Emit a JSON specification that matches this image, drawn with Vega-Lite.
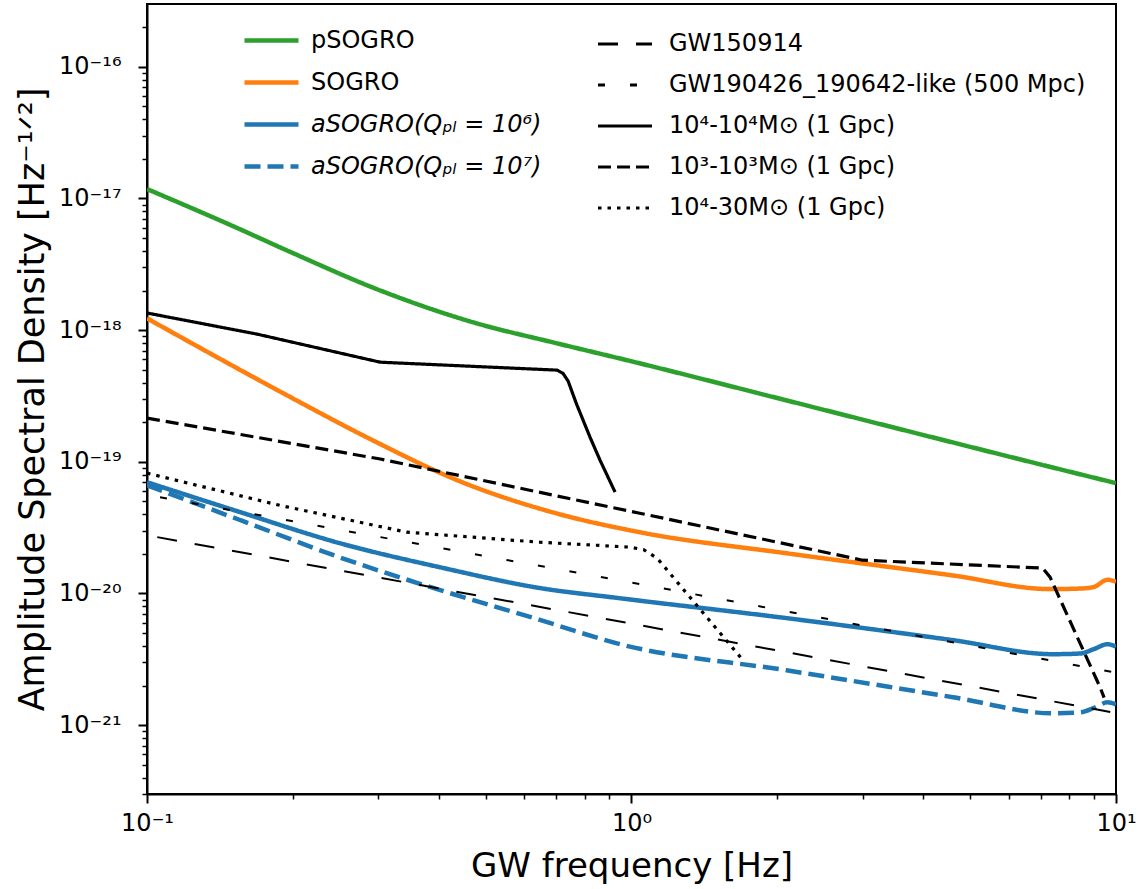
{
  "$schema": "https://vega.github.io/schema/vega-lite/v6.json",
  "width": 969,
  "height": 790,
  "autosize": {"type": "none"},
  "padding": {"left": 147, "top": 4, "right": 26, "bottom": 95},
  "background": "white",
  "config": {
    "font": "DejaVu Sans",
    "view": {"stroke": "black", "strokeWidth": 2},
    "axis": {
      "grid": false,
      "domainColor": "black",
      "domainWidth": 2,
      "tickColor": "black",
      "labelColor": "black",
      "titleColor": "black",
      "labelFontSize": 24,
      "titleFontSize": 34,
      "titleFontWeight": "normal",
      "labelFont": "DejaVu Sans",
      "titleFont": "DejaVu Sans",
      "labelOverlap": false,
      "labelFlush": false
    },
    "legend": {
      "labelFont": "DejaVu Sans",
      "labelFontSize": 24,
      "labelColor": "black",
      "labelLimit": 700,
      "padding": 0,
      "rowPadding": 0
    }
  },
  "datasets": {
    "det": [
      {"curve": "pSOGRO", "f": 0.1, "h": 1.18e-17},
      {"curve": "pSOGRO", "f": 0.15, "h": 6.2e-18},
      {"curve": "pSOGRO", "f": 0.2, "h": 3.85e-18},
      {"curve": "pSOGRO", "f": 0.3, "h": 2.03e-18},
      {"curve": "pSOGRO", "f": 0.47, "h": 1.15e-18},
      {"curve": "pSOGRO", "f": 0.7, "h": 7.96e-19},
      {"curve": "pSOGRO", "f": 1.0, "h": 5.8e-19},
      {"curve": "pSOGRO", "f": 2.0, "h": 3.05e-19},
      {"curve": "pSOGRO", "f": 3.0, "h": 2.09e-19},
      {"curve": "pSOGRO", "f": 5.0, "h": 1.3e-19},
      {"curve": "pSOGRO", "f": 7.0, "h": 9.53e-20},
      {"curve": "pSOGRO", "f": 10.0, "h": 6.89e-20},
      {"curve": "SOGRO", "f": 0.1, "h": 1.23e-18},
      {"curve": "SOGRO", "f": 0.156, "h": 4.97e-19},
      {"curve": "SOGRO", "f": 0.2, "h": 3.03e-19},
      {"curve": "SOGRO", "f": 0.292, "h": 1.46e-19},
      {"curve": "SOGRO", "f": 0.443, "h": 7.1e-20},
      {"curve": "SOGRO", "f": 0.7, "h": 4.06e-20},
      {"curve": "SOGRO", "f": 1.04, "h": 2.92e-20},
      {"curve": "SOGRO", "f": 2.09, "h": 2.02e-20},
      {"curve": "SOGRO", "f": 4.61, "h": 1.37e-20},
      {"curve": "SOGRO", "f": 7.31, "h": 1.08e-20},
      {"curve": "SOGRO", "f": 8.43, "h": 1.09e-20},
      {"curve": "SOGRO", "f": 9.0, "h": 1.12e-20},
      {"curve": "SOGRO", "f": 9.6, "h": 1.27e-20},
      {"curve": "SOGRO", "f": 10.0, "h": 1.23e-20},
      {"curve": "aSOGRO(Qₚₗ = 10⁶)", "f": 0.1, "h": 7.0e-20},
      {"curve": "aSOGRO(Qₚₗ = 10⁶)", "f": 0.156, "h": 4.14e-20},
      {"curve": "aSOGRO(Qₚₗ = 10⁶)", "f": 0.25, "h": 2.41e-20},
      {"curve": "aSOGRO(Qₚₗ = 10⁶)", "f": 0.403, "h": 1.58e-20},
      {"curve": "aSOGRO(Qₚₗ = 10⁶)", "f": 0.647, "h": 1.1e-20},
      {"curve": "aSOGRO(Qₚₗ = 10⁶)", "f": 0.947, "h": 9.2e-21},
      {"curve": "aSOGRO(Qₚₗ = 10⁶)", "f": 2.09, "h": 6.5e-21},
      {"curve": "aSOGRO(Qₚₗ = 10⁶)", "f": 4.61, "h": 4.42e-21},
      {"curve": "aSOGRO(Qₚₗ = 10⁶)", "f": 7.41, "h": 3.46e-21},
      {"curve": "aSOGRO(Qₚₗ = 10⁶)", "f": 8.43, "h": 3.5e-21},
      {"curve": "aSOGRO(Qₚₗ = 10⁶)", "f": 9.0, "h": 3.78e-21},
      {"curve": "aSOGRO(Qₚₗ = 10⁶)", "f": 9.6, "h": 4.12e-21},
      {"curve": "aSOGRO(Qₚₗ = 10⁶)", "f": 10.0, "h": 3.95e-21},
      {"curve": "aSOGRO(Qₚₗ = 10⁷)", "f": 0.1, "h": 6.64e-20},
      {"curve": "aSOGRO(Qₚₗ = 10⁷)", "f": 0.156, "h": 3.6e-20},
      {"curve": "aSOGRO(Qₚₗ = 10⁷)", "f": 0.25, "h": 1.88e-20},
      {"curve": "aSOGRO(Qₚₗ = 10⁷)", "f": 0.403, "h": 1.06e-20},
      {"curve": "aSOGRO(Qₚₗ = 10⁷)", "f": 0.647, "h": 6.3e-21},
      {"curve": "aSOGRO(Qₚₗ = 10⁷)", "f": 0.947, "h": 4.12e-21},
      {"curve": "aSOGRO(Qₚₗ = 10⁷)", "f": 2.09, "h": 2.61e-21},
      {"curve": "aSOGRO(Qₚₗ = 10⁷)", "f": 4.61, "h": 1.63e-21},
      {"curve": "aSOGRO(Qₚₗ = 10⁷)", "f": 7.41, "h": 1.23e-21},
      {"curve": "aSOGRO(Qₚₗ = 10⁷)", "f": 8.43, "h": 1.25e-21},
      {"curve": "aSOGRO(Qₚₗ = 10⁷)", "f": 9.0, "h": 1.35e-21},
      {"curve": "aSOGRO(Qₚₗ = 10⁷)", "f": 9.6, "h": 1.49e-21},
      {"curve": "aSOGRO(Qₚₗ = 10⁷)", "f": 10.0, "h": 1.44e-21}
    ],
    "src": [
      {"src": "GW150914", "f": 0.105, "h": 2.68e-20},
      {"src": "GW150914", "f": 1.04, "h": 5.75e-21},
      {"src": "GW150914", "f": 9.73, "h": 1.26e-21},
      {"src": "GW190426_190642-like (500 Mpc)", "f": 0.1064, "h": 5.38e-20},
      {"src": "GW190426_190642-like (500 Mpc)", "f": 1.04, "h": 1.18e-20},
      {"src": "GW190426_190642-like (500 Mpc)", "f": 9.9, "h": 2.52e-21},
      {"src": "10⁴-10⁴M⊙ (1 Gpc)", "f": 0.1, "h": 1.35e-18},
      {"src": "10⁴-10⁴M⊙ (1 Gpc)", "f": 0.1687, "h": 9.33e-19},
      {"src": "10⁴-10⁴M⊙ (1 Gpc)", "f": 0.303, "h": 5.71e-19},
      {"src": "10⁴-10⁴M⊙ (1 Gpc)", "f": 0.702, "h": 4.97e-19},
      {"src": "10⁴-10⁴M⊙ (1 Gpc)", "f": 0.722, "h": 4.7e-19},
      {"src": "10⁴-10⁴M⊙ (1 Gpc)", "f": 0.74, "h": 4.1e-19},
      {"src": "10⁴-10⁴M⊙ (1 Gpc)", "f": 0.77, "h": 2.75e-19},
      {"src": "10⁴-10⁴M⊙ (1 Gpc)", "f": 0.821, "h": 1.54e-19},
      {"src": "10⁴-10⁴M⊙ (1 Gpc)", "f": 0.861, "h": 1.03e-19},
      {"src": "10⁴-10⁴M⊙ (1 Gpc)", "f": 0.925, "h": 5.88e-20},
      {"src": "10³-10³M⊙ (1 Gpc)", "f": 0.1, "h": 2.15e-19},
      {"src": "10³-10³M⊙ (1 Gpc)", "f": 0.303, "h": 1.05e-19},
      {"src": "10³-10³M⊙ (1 Gpc)", "f": 1.04, "h": 4.07e-20},
      {"src": "10³-10³M⊙ (1 Gpc)", "f": 3.0, "h": 1.79e-20},
      {"src": "10³-10³M⊙ (1 Gpc)", "f": 7.06, "h": 1.56e-20},
      {"src": "10³-10³M⊙ (1 Gpc)", "f": 7.31, "h": 1.33e-20},
      {"src": "10³-10³M⊙ (1 Gpc)", "f": 9.27, "h": 1.94e-21},
      {"src": "10³-10³M⊙ (1 Gpc)", "f": 9.45, "h": 1.62e-21},
      {"src": "10⁴-30M⊙ (1 Gpc)", "f": 0.1, "h": 8.2e-20},
      {"src": "10⁴-30M⊙ (1 Gpc)", "f": 0.188, "h": 4.67e-20},
      {"src": "10⁴-30M⊙ (1 Gpc)", "f": 0.344, "h": 2.92e-20},
      {"src": "10⁴-30M⊙ (1 Gpc)", "f": 0.647, "h": 2.45e-20},
      {"src": "10⁴-30M⊙ (1 Gpc)", "f": 0.993, "h": 2.25e-20},
      {"src": "10⁴-30M⊙ (1 Gpc)", "f": 1.06, "h": 2.15e-20},
      {"src": "10⁴-30M⊙ (1 Gpc)", "f": 1.13, "h": 1.85e-20},
      {"src": "10⁴-30M⊙ (1 Gpc)", "f": 1.365, "h": 8.1e-21},
      {"src": "10⁴-30M⊙ (1 Gpc)", "f": 1.7, "h": 3.1e-21}
    ]
  },
  "layer": [
    {
      "data": {"name": "det"},
      "mark": {"type": "line", "strokeWidth": 4.5, "interpolate": "monotone", "clip": true},
      "encoding": {
        "x": {
          "field": "f", "type": "quantitative",
          "scale": {"type": "log", "domain": [0.1, 10], "nice": false},
          "axis": {
            "title": "GW frequency [Hz]",
            "values": [0.1, 0.2, 0.3, 0.4, 0.5, 0.6, 0.7, 0.8, 0.9, 1, 2, 3, 4, 5, 6, 7, 8, 9, 10],
            "labelExpr": "datum.value == 0.1 ? '10⁻¹' : datum.value == 1 ? '10⁰' : datum.value == 10 ? '10¹' : ''",
            "tickSize": {"condition": {"test": "abs(log(datum.value)/LN10 - round(log(datum.value)/LN10)) < 0.01", "value": 9}, "value": 5},
            "tickWidth": {"condition": {"test": "abs(log(datum.value)/LN10 - round(log(datum.value)/LN10)) < 0.01", "value": 2}, "value": 1.5},
            "labelPadding": 8,
            "titlePadding": 14
          }
        },
        "y": {
          "field": "h", "type": "quantitative",
          "scale": {"type": "log", "domain": [3e-22, 3e-16], "nice": false},
          "axis": {
            "title": "Amplitude Spectral Density [Hz⁻¹ᐟ²]",
            "titleFontSize": 35,
            "values": [3e-22, 4e-22, 5e-22, 6e-22, 7e-22, 8e-22, 9e-22, 1e-21, 2e-21, 3e-21, 4e-21, 5e-21, 6e-21, 7e-21, 8e-21, 9e-21, 1e-20, 2e-20, 3e-20, 4e-20, 5e-20, 6e-20, 7e-20, 8e-20, 9e-20, 1e-19, 2e-19, 3e-19, 4e-19, 5e-19, 6e-19, 7e-19, 8e-19, 9e-19, 1e-18, 2e-18, 3e-18, 4e-18, 5e-18, 6e-18, 7e-18, 8e-18, 9e-18, 1e-17, 2e-17, 3e-17, 4e-17, 5e-17, 6e-17, 7e-17, 8e-17, 9e-17, 1e-16, 2e-16],
            "labelExpr": "abs(log(datum.value)/LN10 - round(log(datum.value)/LN10)) < 0.01 ? ['10⁻²¹','10⁻²⁰','10⁻¹⁹','10⁻¹⁸','10⁻¹⁷','10⁻¹⁶'][round(log(datum.value)/LN10)+21] : ''",
            "tickSize": {"condition": {"test": "abs(log(datum.value)/LN10 - round(log(datum.value)/LN10)) < 0.01", "value": 9}, "value": 5},
            "tickWidth": {"condition": {"test": "abs(log(datum.value)/LN10 - round(log(datum.value)/LN10)) < 0.01", "value": 2}, "value": 1.5},
            "labelPadding": 17,
            "titlePadding": 8
          }
        },
        "color": {
          "field": "curve", "type": "nominal",
          "scale": {"domain": ["pSOGRO", "SOGRO", "aSOGRO(Qₚₗ = 10⁶)", "aSOGRO(Qₚₗ = 10⁷)"], "range": ["#2ca02c", "#ff7f0e", "#1f77b4", "#1f77b4"]},
          "legend": {
            "title": null, "orient": "none", "legendX": 95, "legendY": 7,
            "symbolType": "stroke", "symbolSize": 2916, "symbolStrokeWidth": 4.5, "labelOffset": 10,
            "encode": {"labels": {"update": {"fontStyle": {"signal": "indexof(datum.label, 'aSOGRO') >= 0 ? 'italic' : 'normal'"}}}}
          }
        },
        "strokeDash": {
          "field": "curve", "type": "nominal",
          "scale": {"domain": ["pSOGRO", "SOGRO", "aSOGRO(Qₚₗ = 10⁶)", "aSOGRO(Qₚₗ = 10⁷)"], "range": [[1, 0], [1, 0], [1, 0], [16, 7]]},
          "legend": {
            "title": null, "orient": "none", "legendX": 95, "legendY": 7,
            "symbolType": "stroke", "symbolSize": 2916, "symbolStrokeWidth": 4.5, "labelOffset": 10,
            "encode": {"labels": {"update": {"fontStyle": {"signal": "indexof(datum.label, 'aSOGRO') >= 0 ? 'italic' : 'normal'"}}}}
          }
        }
      }
    },
    {
      "data": {"name": "src"},
      "encoding": {
        "x": {"field": "f", "type": "quantitative"},
        "y": {"field": "h", "type": "quantitative"},
        "strokeDash": {
          "field": "src", "type": "nominal",
          "scale": {"domain": ["GW150914", "GW190426_190642-like (500 Mpc)", "10⁴-10⁴M⊙ (1 Gpc)", "10³-10³M⊙ (1 Gpc)", "10⁴-30M⊙ (1 Gpc)"], "range": [[20, 18], [7, 25], [1, 0], [13, 6], [3.5, 6]]},
          "legend": {
            "title": null, "orient": "none", "legendX": 449, "legendY": 11,
            "symbolType": "stroke", "symbolSize": 2916, "symbolStrokeColor": "black", "symbolStrokeWidth": 3.2, "labelOffset": 15
          }
        }
      },
      "layer": [
        {
          "transform": [{"filter": "indexof(datum.src, 'GW') == 0"}],
          "mark": {"type": "line", "color": "black", "strokeWidth": 2, "clip": true}
        },
        {
          "transform": [{"filter": "indexof(datum.src, 'GW') != 0"}],
          "mark": {"type": "line", "color": "black", "strokeWidth": 3.2, "clip": true}
        }
      ]
    }
  ],
  "resolve": {"scale": {"color": "independent", "strokeDash": "independent"}}
}
